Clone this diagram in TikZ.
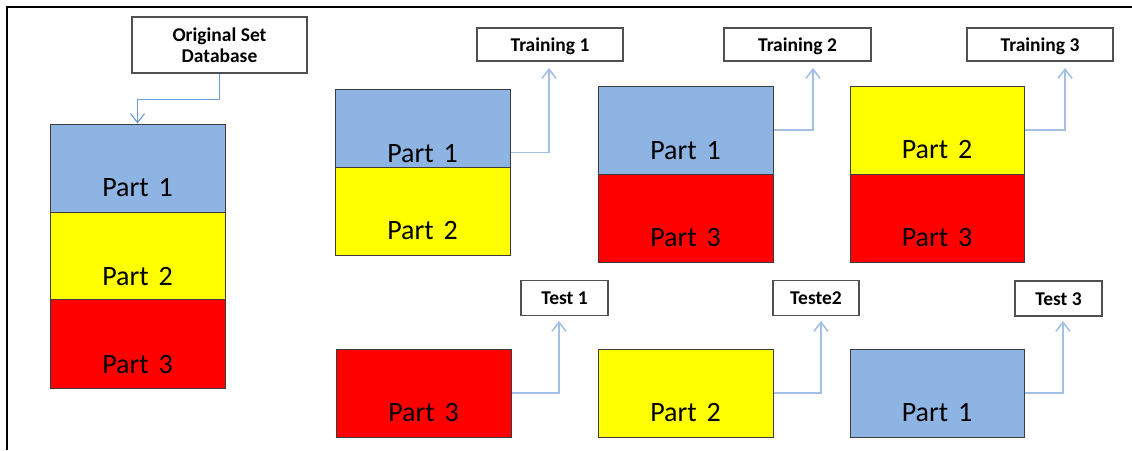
\documentclass[tikz,border=0pt]{standalone}
\usepackage{fontspec}
\setmainfont{Carlito}
\usetikzlibrary{arrows.meta,calc}
\definecolor{pblue}{HTML}{8EB4E3}
\definecolor{pyellow}{HTML}{FFFF00}
\definecolor{pred}{HTML}{FF0000}
\definecolor{arrA}{HTML}{6F9BD4}
\definecolor{arrB}{HTML}{A3BFE3}
\definecolor{edgec}{HTML}{3C3C3C}
\definecolor{labedge}{HTML}{505050}
\newcommand{\pt}[1]{Part\hspace{3.5pt} #1}
\begin{document}
\begin{tikzpicture}[x=1pt,y=-1pt,
  seg/.style={draw=edgec, line width=1pt, minimum width=175pt, minimum height=88pt,
    text depth=0pt, inner sep=0pt, font=\fontsize{28}{32}\selectfont},
  labbase/.style={draw=labedge, line width=1.1pt, fill=white, inner sep=0pt,
    font=\bfseries\fontsize{19.5}{21}\selectfont},
  lab/.style={labbase, text height=13pt, text depth=0pt},
  arr/.style={draw=arrB, line width=1.6pt, -{Straight Barb[length=9pt,width=14pt]}},
  arrdb/.style={draw=arrA, line width=1.1pt, -{Straight Barb[length=9pt,width=14pt]}},
]
\useasboundingbox (0,0) rectangle (1132,450);
% frame
\draw[line width=2pt] (7.3,450) -- (7.3,7.3) -- (1132,7.3);

% original set
\node[labbase, minimum width=175pt, minimum height=56pt, align=center] (db) at (219.5,45) {Original Set\\Database};
\node[seg, fill=pblue, text height=56pt] (L1) at (137.5,168) {\pt{1}};
\node[seg, fill=pyellow, minimum height=87pt, text height=59pt] (L2) at (137.5,255.5) {\pt{2}};
\node[seg, fill=pred, minimum height=89pt, text height=59pt] (L3) at (137.5,343.5) {\pt{3}};
\draw[arrdb] (db.south) -- ++(0,26) -| (L1.north);

% training stacks
\node[seg, fill=pblue, minimum height=78pt, text height=68pt] (A1) at (422.5,128) {\pt{1}};
\node[seg, fill=pyellow, text height=56pt] (A2) at (422.5,211) {\pt{2}};
\node[seg, fill=pblue, text height=58pt] (B1) at (685.5,130) {\pt{1}};
\node[seg, fill=pred, text height=56pt] (B2) at (685.5,218) {\pt{3}};
\node[seg, fill=pyellow, minimum width=174pt, text height=56pt] (C1) at (937,130) {\pt{2}};
\node[seg, fill=pred, minimum width=174pt, text height=56pt] (C2) at (937,218) {\pt{3}};

% test boxes
\node[seg, fill=pred, text height=56pt] (D1) at (423.5,393) {\pt{3}};
\node[seg, fill=pyellow, text height=56pt] (D2) at (685.5,393) {\pt{2}};
\node[seg, fill=pblue, minimum width=174pt, text height=56pt] (D3) at (937,393) {\pt{1}};

% labels
\node[lab, minimum width=146pt, minimum height=33pt] (t1) at (550,44.5) {Training 1};
\node[lab, minimum width=147pt, minimum height=33pt] (t2) at (797.5,44.5) {Training 2};
\node[lab, minimum width=146pt, minimum height=33pt] (t3) at (1040,44.5) {Training 3};
\node[lab, minimum width=87pt, minimum height=35pt] (s1) at (564.5,298) {Test 1};
\node[lab, minimum width=86pt, minimum height=35pt] (s2) at (816,298) {Teste2};
\node[lab, minimum width=87pt, minimum height=35pt] (s3) at (1058.5,298.5) {Test 3};

% arrow ends
\coordinate (t1e) at (549,68);
\coordinate (t2e) at (813,68);
\coordinate (t3e) at (1065,68);
\coordinate (s1e) at (559,321);
\coordinate (s2e) at (821,321);
\coordinate (s3e) at (1063,321);

\draw[arr] ($(A1.south east)+(0,-15)$) -| (t1e);
\draw[arr] (B1.east) -| (t2e);
\draw[arr] (C1.east) -| (t3e);
\draw[arr] (D1.east) -| (s1e);
\draw[arr] (D2.east) -| (s2e);
\draw[arr] (D3.east) -| (s3e);
\end{tikzpicture}
\end{document}
